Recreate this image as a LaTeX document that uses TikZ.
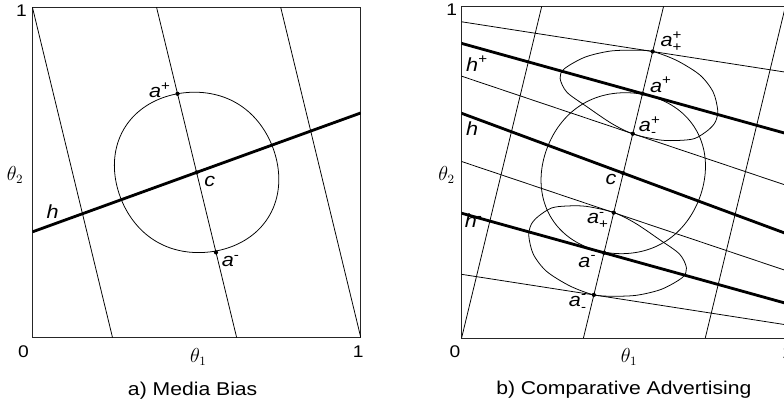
\documentclass[tikz,border=0pt]{standalone}
\usepackage{amsmath}
\usepackage{fontspec}
\setmainfont{Liberation Sans}[FakeStretch=1.14]
\usetikzlibrary{calc}
\newcommand{\lbl}[2]{\textit{#1}$^{\text{#2}}$}
\newcommand{\lbll}[3]{\textit{#1}$^{\text{#2}}_{\text{#3}}$}

\begin{document}
\begin{tikzpicture}[
  declare function={rb(\t)=0.2475*(1+0.01*cos(4*(\t-58.7))+0.03*cos(2*(\t-148.7)));},
  axesbox/.style={line width=0.7pt,draw=black!85},
  guide/.style={line width=0.55pt},
  hline/.style={line width=2pt},
  lab/.style={inner sep=0pt,font=\fontsize{13.5}{15}\selectfont},
  num/.style={inner sep=0pt,font=\fontsize{12}{14}\selectfont},
  paneltitle/.style={inner sep=0pt,anchor=base,font=\fontsize{13.2}{15}\selectfont},
  blob/.pic={\draw[guide] plot[smooth cycle,domain=0:355,samples=72,variable=\t] ({rb(\t)*cos(\t)},{rb(\t)*sin(\t)});},
  lobe/.pic={\draw[guide] plot[smooth cycle] coordinates {(0.229,-0.05) (0.215,0.005) (0.175,0.056) (0.104,0.10) (0.031,0.127) (-0.028,0.131) (-0.10,0.128) (-0.175,0.11) (-0.238,0.075) (-0.251,0.046) (-0.23,0.004) (-0.17,-0.039) (-0.094,-0.09) (-0.028,-0.122) (0.054,-0.14) (0.114,-0.141) (0.16,-0.135) (0.2,-0.11) (0.222,-0.085)};}]
\useasboundingbox (0,0) rectangle (19.6,10.15);

\begin{scope}[shift={(0.81,1.71)},x=8.21cm,y=8.26cm]
\draw[axesbox] (0,0) rectangle (1,1);
\coordinate (Ls) at (0.622,0);
\coordinate (Le) at (0.378,1);
\coordinate (Lc) at ($(Ls)!0.5!(Le)$);
\coordinate (Lap) at ($(Ls)!0.738!(Le)$);
\coordinate (Lam) at ($(Ls)!0.258!(Le)$);
\begin{scope}
\clip (0,0) rectangle (1,1);
\foreach \b in {0.244,0.622,1}
  \draw[guide] (\b,0) -- (\b-0.244,1);
\draw[hline] ($(Lc)+(-0.5,-0.18)$) -- ($(Lc)+(0.5,0.18)$);
\end{scope}
\pic at (Lc) {blob};
\foreach \p in {Lap,Lc,Lam} \fill (\p) circle (1.5pt);
\node[num] (Ltop) at (-0.033,0.988) {1};
\node[num] (Lzero) at (-0.027,-0.043) {0};
\node[num] (Lright) at (0.992,-0.043) {1};
\node[lab] (Lth1) at (0.505,-0.058) {$\theta_1$};
\node[lab] (Lth2) at (-0.053,0.492) {$\theta_2$};
\node[lab] (Lh) at (0.062,0.381) {\textit{h}};
\node[lab] (Lcl) at (0.540,0.471) {\textit{c}};
\node[lab] (Lapl) at (0.388,0.749) {\lbl{a}{+}};
\node[lab] (Laml) at (0.604,0.231) {\lbl{a}{-}};
\node[paneltitle] (Ltitle) at (0.488,-0.174) {a) Media Bias};
\end{scope}

\begin{scope}[shift={(11.54,1.70)},x=8.21cm,y=8.29cm]
\draw[axesbox] (0,0) rectangle (1,1);
\coordinate (Rs) at (0.371,0);
\coordinate (Re) at (0.615,1);
\foreach \n/\t in {Rapp/0.864,Rap/0.737,Rapm/0.616,Rc/0.497,Ramp/0.378,Ram/0.257,Ramm/0.130}
  \coordinate (\n) at ($(Rs)!\t!(Re)$);
\begin{scope}
\clip (0,0) rectangle (1,1);
\foreach \b in {0,0.371,0.742}
  \draw[guide] (\b,0) -- (\b+0.244,1);
\foreach \n/\s/\w in {Rapp/0.154/guide,Rap/0.275/hline,Rapm/0.333/guide,Rc/0.367/hline,Ramp/0.333/guide,Ram/0.275/hline,Ramm/0.154/guide}
  \draw[\w] ($(\n)+(-1,\s)$) -- ($(\n)+(1,-\s)$);
\end{scope}
\pic[xscale=-1] at (Rc) {blob};
\pic at (Rap) {lobe};
\pic[rotate=180] at (Ram) {lobe};
\foreach \p in {Rapp,Rap,Rapm,Rc,Ramp,Ram,Ramm} \fill (\p) circle (1.5pt);
\node[num] (Rtop) at (-0.030,0.990) {1};
\node[num] (Rzero) at (-0.020,-0.040) {0};
\node[num] (Rright) at (0.992,-0.043) {1};
\node[lab] (Rth1) at (0.510,-0.057) {$\theta_1$};
\node[lab] (Rth2) at (-0.046,0.493) {$\theta_2$};
\node[lab] (Rhp) at (0.047,0.827) {\lbl{h}{+}};
\node[lab] (Rh) at (0.032,0.631) {\textit{h}};
\node[lab] (Rhm) at (0.037,0.354) {\lbl{h}{-}};
\node[lab] (Rappl) at (0.639,0.894) {\lbll{a}{+}{+}};
\node[lab] (Rapl) at (0.607,0.764) {\lbl{a}{+}};
\node[lab] (Rapml) at (0.573,0.637) {\lbll{a}{+}{-}};
\node[lab] (Rcl) at (0.455,0.478) {\textit{c}};
\node[lab] (Rampl) at (0.415,0.355) {\lbll{a}{-}{+}};
\node[lab] (Raml) at (0.383,0.231) {\lbl{a}{-}};
\node[lab] (Ramml) at (0.354,0.106) {\lbll{a}{-}{-}};
\node[paneltitle] (Rtitle) at (0.494,-0.171) {b) Comparative Advertising};
\end{scope}
\end{tikzpicture}
\end{document}
